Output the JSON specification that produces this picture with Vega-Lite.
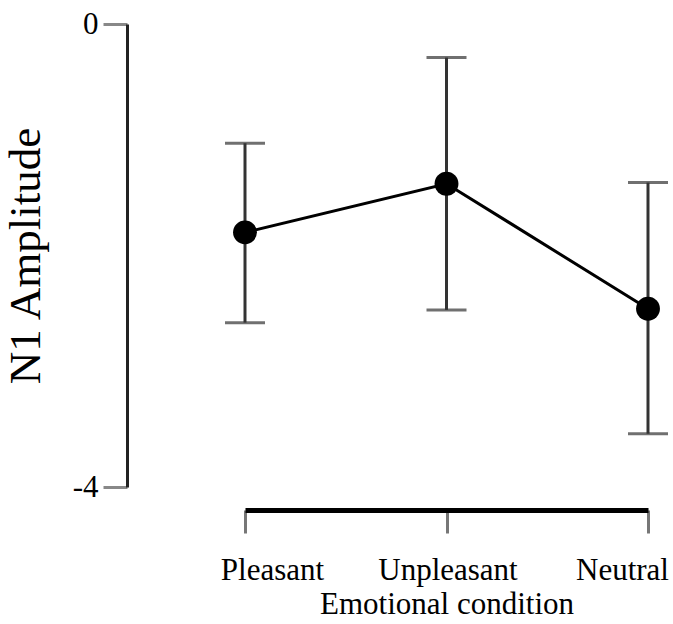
{
  "$schema": "https://vega.github.io/schema/vega-lite/v6.json",
  "width": 403,
  "height": 463,
  "autosize": "none",
  "padding": {"left": 245, "top": 24, "right": 25, "bottom": 137},
  "background": "white",
  "config": {"view": {"stroke": null}},
  "data": {
    "values": [
      {"cond": "Pleasant", "mean": -1.80, "lo": -2.58, "hi": -1.03},
      {"cond": "Unpleasant", "mean": -1.38, "lo": -2.47, "hi": -0.29},
      {"cond": "Neutral", "mean": -2.46, "lo": -3.54, "hi": -1.37}
    ]
  },
  "encoding": {
    "x": {
      "field": "cond", "type": "nominal", "sort": ["Pleasant", "Unpleasant", "Neutral"],
      "scale": {"type": "point", "padding": 0},
      "axis": {
        "title": "Emotional condition", "labelAngle": 0,
        "offset": 23, "domainWidth": 5, "domainColor": "#000",
        "tickSize": 23, "tickWidth": 3, "tickColor": "#777",
        "labelFont": "Liberation Serif", "labelFontSize": 31, "labelColor": "#000",
        "labelPadding": 22, "labelOffset": {"expr": "datum.value == 'Pleasant' ? 27 : datum.value == 'Neutral' ? -26 : 1"},
        "titleFont": "Liberation Serif", "titleFontSize": 31, "titleFontWeight": "normal", "titleColor": "#000",
        "titlePadding": 4
      }
    },
    "y": {
      "field": "mean", "type": "quantitative",
      "scale": {"domain": [-4, 0], "nice": false, "zero": false},
      "axis": {
        "title": "N1 Amplitude", "values": [0, -4], "grid": false,
        "labelExpr": "datum.value == 0 ? '0' : '-4'",
        "offset": 118, "domainWidth": 3, "domainColor": "#222",
        "tickSize": 24, "tickWidth": 3, "tickColor": "#888",
        "labelFont": "Liberation Serif", "labelFontSize": 31, "labelColor": "#000",
        "labelPadding": 5,
        "titleFont": "Liberation Serif", "titleFontSize": 45, "titleFontWeight": "normal", "titleColor": "#000",
        "titlePadding": 24
      }
    }
  },
  "layer": [
    {
      "mark": {"type": "rule", "strokeWidth": 3, "color": "#333"},
      "encoding": {"y": {"field": "lo", "type": "quantitative"}, "y2": {"field": "hi"}}
    },
    {
      "mark": {"type": "tick", "thickness": 3, "size": 40, "color": "#333", "orient": "horizontal"},
      "encoding": {"y": {"field": "lo", "type": "quantitative"}}
    },
    {
      "mark": {"type": "tick", "thickness": 3, "size": 40, "color": "#333", "orient": "horizontal"},
      "encoding": {"y": {"field": "hi", "type": "quantitative"}}
    },
    {
      "mark": {"type": "line", "strokeWidth": 3, "color": "#000"},
      "encoding": {}
    },
    {
      "mark": {"type": "point", "filled": true, "size": 570, "opacity": 1, "color": "#000"},
      "encoding": {}
    }
  ]
}
